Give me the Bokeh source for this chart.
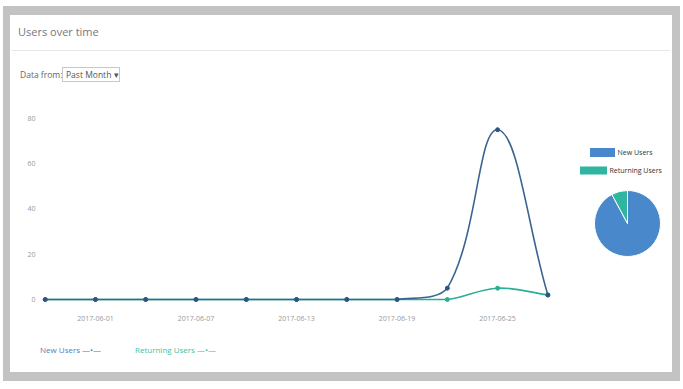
import math
import pandas as pd
from bokeh.plotting import figure
from bokeh.layouts import column
from bokeh.models import (Range1d, FixedTicker, DatetimeTickFormatter, Div,
                          ColumnDataSource)
from bokeh.embed import file_html
from bokeh.resources import INLINE
from bokeh.core.properties import value

# ---------------- data ----------------
dates = ["2017-05-29", "2017-06-01", "2017-06-04", "2017-06-07", "2017-06-10",
         "2017-06-13", "2017-06-16", "2017-06-19", "2017-06-22", "2017-06-25",
         "2017-06-28"]
new_users = [0, 0, 0, 0, 0, 0, 0, 0, 5, 75, 2]
returning_users = [0, 0, 0, 0, 0, 0, 0, 0, 0, 5, 2]
tick_dates = ["2017-06-01", "2017-06-07", "2017-06-13", "2017-06-19", "2017-06-25"]
y_ticks = [0, 20, 40, 60, 80]
series_names = ["New Users", "Returning Users"]
title_text = "Users over time"
filter_label = "Data from:"
filter_value = "Past Month"

FONT = "Open Sans"
NEW_C = "#3b6590"
RET_C = "#2aae96"
PIE_NEW = "#4a88cc"
PIE_RET = "#2fb5a0"

CW = 662                      # card width
FL, FR = 28, 658              # frame left/right inside card
P_H = 240                     # figure height (frame 200 + 40 below)

DAY = 86400000.0
t0 = pd.Timestamp("2017-06-01").value / 1e6
xs = [pd.Timestamp(d).value / 1e6 for d in dates]
x_start = t0 - 3.40 * DAY
x_end = t0 + 34.2 * DAY
y_start, y_end = -2.65, 85.7

p = figure(width=CW, height=P_H, output_backend="svg", toolbar_location=None,
           x_axis_type="datetime",
           x_range=Range1d(x_start, x_end), y_range=Range1d(y_start, y_end),
           min_border_left=FL, min_border_right=CW - FR,
           min_border_top=0, min_border_bottom=40,
           border_fill_color="white", background_fill_color="white",
           outline_line_color=None)
p.grid.visible = False

# ---------------- smooth lines (Chart.js-like tension) ----------------
px_per_ms = (FR - FL) / (x_end - x_start)
px_per_unit = 200 / (y_end - y_start)

def bezier_segments(xv, yv, t=0.4):
    n = len(xv)
    P = [(xv[i] * px_per_ms, yv[i] * px_per_unit) for i in range(n)]
    prev_cp, next_cp = [None] * n, [None] * n
    for i in range(n):
        pr = P[i - 1] if i > 0 else P[i]
        cu = P[i]
        nx = P[i + 1] if i < n - 1 else P[i]
        d01 = math.hypot(cu[0] - pr[0], cu[1] - pr[1])
        d12 = math.hypot(nx[0] - cu[0], nx[1] - cu[1])
        tot = d01 + d12
        fa = t * d01 / tot if tot else 0
        fb = t * d12 / tot if tot else 0
        prev_cp[i] = (cu[0] - fa * (nx[0] - pr[0]), cu[1] - fa * (nx[1] - pr[1]))
        next_cp[i] = (cu[0] + fb * (nx[0] - pr[0]), cu[1] + fb * (nx[1] - pr[1]))
    lo, hi = 0.0, 85.0
    def back(pt):
        return pt[0] / px_per_ms, min(max(pt[1] / px_per_unit, lo), hi)
    d = dict(x0=[], y0=[], x1=[], y1=[], cx0=[], cy0=[], cx1=[], cy1=[])
    for i in range(n - 1):
        c0 = back(next_cp[i]); c1 = back(prev_cp[i + 1])
        d["x0"].append(xv[i]); d["y0"].append(yv[i])
        d["x1"].append(xv[i + 1]); d["y1"].append(yv[i + 1])
        d["cx0"].append(c0[0]); d["cy0"].append(c0[1])
        d["cx1"].append(c1[0]); d["cy1"].append(c1[1])
    return ColumnDataSource(d)

ret_src = bezier_segments(xs, returning_users)
new_src = bezier_segments(xs, new_users)
p.bezier(x0="x0", y0="y0", x1="x1", y1="y1", cx0="cx0", cy0="cy0", cx1="cx1",
         cy1="cy1", source=ret_src, line_color=RET_C, line_width=1.6)
p.scatter(xs, returning_users, size=4, fill_color=RET_C, line_color=RET_C)
p.bezier(x0="x0", y0="y0", x1="x1", y1="y1", cx0="cx0", cy0="cy0", cx1="cx1",
         cy1="cy1", source=new_src, line_color=NEW_C, line_width=1.6)
p.scatter(xs, new_users, size=4, fill_color="#2c5680", line_color="#2c5680")

# ---------------- axes ----------------
p.xaxis.ticker = FixedTicker(ticks=[pd.Timestamp(d).value / 1e6 for d in tick_dates])
fmt = "%Y-%m-%d"
p.xaxis.formatter = DatetimeTickFormatter(days=fmt, months=fmt, years=fmt, hours=fmt,
                                          hourmin=fmt, minutes=fmt, minsec=fmt,
                                          seconds=fmt, milliseconds=fmt,
                                          microseconds=fmt)
p.yaxis.ticker = FixedTicker(ticks=y_ticks)
for ax in (p.xaxis, p.yaxis):
    ax.axis_line_color = None
    ax.major_tick_line_color = None
    ax.minor_tick_line_color = None
    ax.major_tick_out = 0
    ax.major_tick_in = 0
    ax.major_label_text_font = FONT
    ax.major_label_text_font_size = "7px"
    ax.major_label_text_color = "#999999"
p.yaxis.major_label_standoff = 3
p.xaxis.major_label_standoff = 10

# ---------------- pie (own ranges inside the frame) ----------------
p.extra_x_ranges = {"pie": Range1d(0, FR - FL)}
p.extra_y_ranges = {"pie": Range1d(0, 200)}
tot = sum(new_users) + sum(returning_users)
frac_ret = sum(returning_users) / tot
a0 = math.pi / 2
a1 = a0 + frac_ret * 2 * math.pi
pie_src = ColumnDataSource(dict(
    start=[a1, a0], end=[a0 + 2 * math.pi, a1],
    color=[PIE_NEW, PIE_RET]))
p.wedge(x=589, y=82, radius=33, start_angle="start", end_angle="end",
        fill_color="color", line_color="white", line_width=1, source=pie_src,
        x_range_name="pie", y_range_name="pie")
# pie legend
p.rect(x=[564, 555], y=[153, 135], width=[25, 27], height=[9, 8],
       fill_color=[PIE_NEW, PIE_RET], line_color=None,
       x_range_name="pie", y_range_name="pie")
p.text(x=[579, 571], y=[153, 135], text=series_names, text_font=value(FONT),
       text_font_size="7px", text_color="#333333", text_baseline="middle",
       x_range_name="pie", y_range_name="pie")

# ---------------- header / footer ----------------
header_html = f"""
<div style="position:relative;width:{CW}px;height:90px;font-family:'{FONT}';margin:0;padding:0;">
  <div style="position:absolute;left:8px;top:9px;font-size:11px;line-height:15px;color:#777;">{title_text}</div>
  <div style="position:absolute;left:2px;right:2px;top:35px;height:0;border-top:1px solid #e6e6e6;"></div>
  <div style="position:absolute;left:10px;top:54px;font-size:8.5px;line-height:12px;color:#666;">{filter_label}</div>
  <div style="position:absolute;left:52px;top:52px;width:58px;height:15px;box-sizing:border-box;border:1px solid #c8c8c8;font-size:8.5px;line-height:13px;color:#555;padding-left:3px;">{filter_value} &#9662;</div>
</div>"""
header = Div(text=header_html, width=CW, height=90, margin=0,
             styles={"background-color": "white"})

footer_html = f"""
<div style="position:relative;width:{CW}px;height:27px;font-family:'{FONT}';margin:0;padding:0;">
  <div style="position:absolute;left:30px;top:-1px;font-size:8px;line-height:12px;color:#4a7fc1;">{series_names[0]} &mdash;&bull;&mdash;</div>
  <div style="position:absolute;left:125px;top:-1px;font-size:8px;line-height:12px;color:#3dbfa5;">{series_names[1]} &mdash;&bull;&mdash;</div>
</div>"""
footer = Div(text=footer_html, width=CW, height=27, margin=0,
             styles={"background-color": "white"})

layout = column(header, p, footer, spacing=0,
                styles={"border-style": "solid", "border-color": "#c3c3c3",
                        "border-width": "9px 8px 9px 7px",
                        "margin": "6px 3px 8px 3px",
                        "background-color": "white"})

open("out.html", "w").write(file_html(layout, INLINE))
